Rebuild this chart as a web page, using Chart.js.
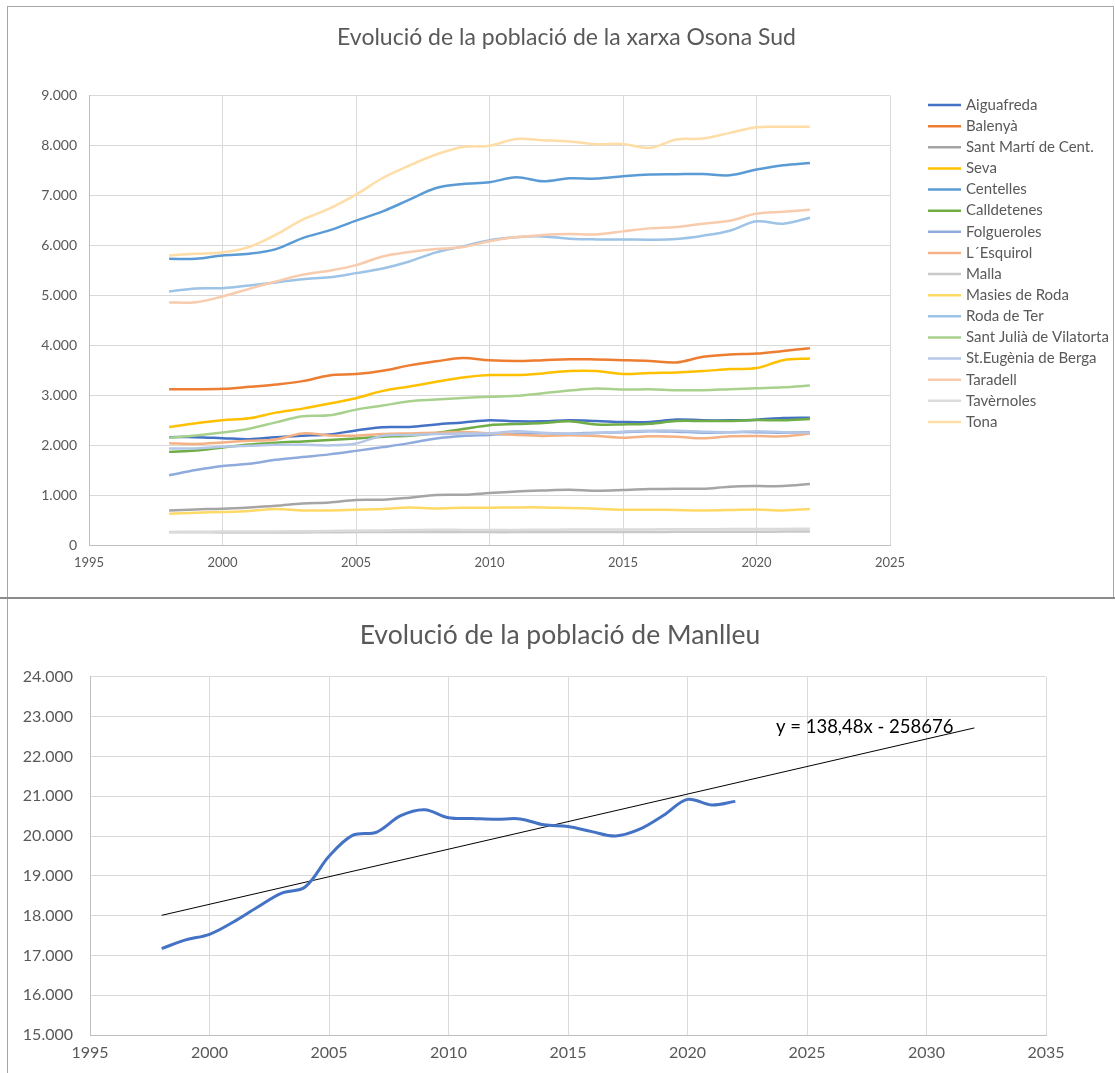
<!DOCTYPE html>
<html>
<head>
<meta charset="utf-8">
<script src="https://cdn.jsdelivr.net/npm/chart.js@4"></script>
<style>
  body { margin: 0; background: #fff; width: 1115px; height: 1073px; position: relative; overflow: hidden; }
  .box { position: absolute; }
  #topWrap { left: 0; top: 0; width: 1115px; height: 598px; }
  #bottomWrap { left: 0; top: 598px; width: 1115px; height: 475px; }
  .frame { position: absolute; pointer-events: none; }
</style>
</head>
<body>
<div id="topWrap" class="box"><canvas id="osonaChart" width="1115" height="598"></canvas></div>
<div id="bottomWrap" class="box"><canvas id="manlleuChart" width="1115" height="475"></canvas></div>
<div class="frame" style="left:7px;top:6px;width:1105px;height:591px;border:1px solid #a6a6a6;border-bottom:none;"></div>
<div class="frame" style="left:0;top:597px;width:1115px;height:0;border-top:2px solid #8c8c8c;"></div>
<div class="frame" style="left:7px;top:599px;width:0;height:474px;border-left:1px solid #a6a6a6;"></div>
<script>
// anys (1998-2022)
var years = [1998, 1999, 2000, 2001, 2002, 2003, 2004, 2005, 2006, 2007, 2008, 2009, 2010,
             2011, 2012, 2013, 2014, 2015, 2016, 2017, 2018, 2019, 2020, 2021, 2022];

var aiguafreda = [2160, 2160, 2140, 2120, 2160, 2190, 2215, 2295, 2360, 2365, 2415, 2455, 2500, 2476, 2476, 2500, 2485, 2463, 2463, 2515, 2497, 2497, 2510, 2545, 2550];
var balenya = [3120, 3120, 3128, 3168, 3215, 3282, 3396, 3423, 3490, 3597, 3678, 3745, 3700, 3685, 3702, 3722, 3715, 3702, 3685, 3656, 3768, 3815, 3834, 3887, 3940];
var santMarti = [693, 713, 727, 753, 787, 833, 853, 900, 907, 947, 1000, 1007, 1040, 1073, 1093, 1107, 1087, 1100, 1120, 1127, 1127, 1167, 1180, 1180, 1220];
var seva = [2362, 2436, 2497, 2537, 2651, 2731, 2832, 2940, 3087, 3174, 3268, 3356, 3404, 3404, 3437, 3483, 3483, 3424, 3444, 3457, 3483, 3523, 3543, 3702, 3735];
var centelles = [5732, 5732, 5800, 5833, 5926, 6147, 6300, 6495, 6682, 6916, 7150, 7230, 7264, 7364, 7284, 7344, 7338, 7384, 7418, 7425, 7431, 7405, 7518, 7605, 7652];
var calldetenes = [1865, 1893, 1953, 2015, 2050, 2075, 2101, 2134, 2168, 2188, 2242, 2322, 2400, 2422, 2442, 2476, 2415, 2415, 2429, 2483, 2483, 2483, 2503, 2497, 2523];
var folgueroles = [1395, 1500, 1580, 1625, 1705, 1760, 1815, 1885, 1960, 2040, 2135, 2185, 2205, 2230, 2240, 2230, 2250, 2260, 2280, 2270, 2250, 2260, 2260, 2250, 2260];
var esquirol = [2040, 2025, 2054, 2087, 2114, 2235, 2195, 2190, 2221, 2235, 2248, 2262, 2238, 2204, 2184, 2197, 2184, 2150, 2177, 2170, 2136, 2177, 2184, 2177, 2231];
var malla = [255, 255, 252, 250, 250, 252, 255, 258, 260, 262, 262, 260, 258, 258, 260, 262, 262, 262, 262, 263, 265, 266, 267, 268, 268];
var masies = [627, 647, 660, 680, 720, 693, 693, 707, 720, 753, 733, 747, 747, 753, 753, 740, 727, 707, 707, 700, 693, 700, 713, 693, 720];
var rodaTer = [5077, 5137, 5144, 5197, 5258, 5324, 5360, 5445, 5538, 5679, 5860, 5980, 6105, 6165, 6180, 6134, 6120, 6120, 6114, 6127, 6194, 6294, 6482, 6435, 6555];
var santJulia = [2148, 2195, 2255, 2329, 2456, 2577, 2597, 2711, 2792, 2879, 2913, 2946, 2970, 2987, 3040, 3093, 3133, 3113, 3120, 3100, 3100, 3120, 3139, 3159, 3192];
var stEugenia = [1933, 1933, 1966, 1987, 2007, 2007, 1995, 2034, 2188, 2201, 2221, 2235, 2235, 2280, 2250, 2230, 2240, 2270, 2290, 2290, 2270, 2260, 2280, 2260, 2250];
var taradell = [4856, 4863, 4977, 5130, 5278, 5411, 5492, 5605, 5779, 5866, 5926, 5967, 6085, 6167, 6207, 6227, 6220, 6281, 6341, 6368, 6435, 6495, 6636, 6676, 6716];
var tavernoles = [262, 266, 268, 270, 272, 275, 280, 286, 292, 298, 305, 302, 300, 302, 305, 308, 310, 310, 312, 314, 316, 318, 320, 322, 326];
var tona = [5800, 5833, 5860, 5967, 6214, 6515, 6736, 7017, 7350, 7600, 7820, 7970, 7995, 8130, 8107, 8080, 8027, 8030, 7953, 8120, 8140, 8254, 8368, 8375, 8375];

var municipis = ["Aiguafreda", "Balenyà", "Sant Martí de Cent.", "Seva", "Centelles", "Calldetenes",
                 "Folgueroles", "L´Esquirol", "Malla", "Masies de Roda", "Roda de Ter",
                 "Sant Julià de Vilatorta", "St.Eugènia de Berga", "Taradell", "Tavèrnoles", "Tona"];
var series = [aiguafreda, balenya, santMarti, seva, centelles, calldetenes, folgueroles, esquirol,
              malla, masies, rodaTer, santJulia, stEugenia, taradell, tavernoles, tona];
var colors = ["#4472C4", "#ED7D31", "#A5A5A5", "#FFC000", "#5B9BD5", "#70AD47",
              "#8FAADC", "#F4B183", "#C9C9C9", "#FFD966", "#9DC3E6", "#A9D18E",
              "#B4C7E7", "#F8CBAD", "#DBDBDB", "#FFDDA6"];

// Manlleu
var manlleu = [17170, 17390, 17530, 17840, 18210, 18560, 18720, 19490, 20020, 20100, 20510, 20660, 20460,
               20440, 20420, 20430, 20280, 20240, 20110, 20000, 20170, 20520, 20920, 20780, 20870];
var trendYears = [1998, 2032];
var trendValues = [18007, 22715];
var trendLabel = "y = 138,48x - 258676";

var yTicksTop = [0, 1000, 2000, 3000, 4000, 5000, 6000, 7000, 8000, 9000];
var xTicksTop = [1995, 2000, 2005, 2010, 2015, 2020, 2025];
var yTicksBottom = [15000, 16000, 17000, 18000, 19000, 20000, 21000, 22000, 23000, 24000];
var xTicksBottom = [1995, 2000, 2005, 2010, 2015, 2020, 2025, 2030, 2035];

Chart.defaults.font.family = "Lato, 'Open Sans', sans-serif";
Chart.defaults.color = "#595959";
Chart.defaults.animation = false;

function punts(xs, ys) {
    return xs.map(function (x, i) { return { x: x, y: ys[i] }; });
}

function milers(v) {
    return String(v).replace(/\B(?=(\d{3})+(?!\d))/g, ".");
}

var gridStyle = { color: "#d9d9d9", lineWidth: 1, drawTicks: false };
var borderStyle = { color: "#bfbfbf", width: 1 };

// empty axis on the right that only reserves room (legend / margin)
function spacer(w) {
    return {
        position: "right",
        min: 0, max: 1,
        afterFit: function (s) { s.width = w; },
        grid: { display: false, drawTicks: false },
        border: { display: false },
        ticks: { display: false }
    };
}

var sideLegend = {
    id: 'sideLegend',
    afterDraw: function (chart) {
        var ctx = chart.ctx;
        ctx.save();
        ctx.font = "15px Lato";
        ctx.textBaseline = "middle";
        chart.data.datasets.forEach(function (ds, i) {
            var y = 105 + i * 21.13;
            ctx.strokeStyle = ds.borderColor;
            ctx.lineWidth = 2.5;
            ctx.beginPath();
            ctx.moveTo(928, y);
            ctx.lineTo(961, y);
            ctx.stroke();
            ctx.fillStyle = "#595959";
            ctx.fillText(ds.label, 966, y);
        });
        ctx.restore();
    }
};

var topDatasets = municipis.map(function (nom, i) {
    return {
        label: nom,
        data: punts(years, series[i]),
        borderColor: colors[i],
        backgroundColor: colors[i],
        borderWidth: 2.5,
        pointRadius: 0,
        tension: 0.35,
        order: municipis.length - i
    };
});

new Chart(document.getElementById("osonaChart"), {
    type: "line",
    data: { datasets: topDatasets },
    options: {
        responsive: false,
        layout: { padding: { left: 18, right: 0, top: 0, bottom: 0 } },
        plugins: {
            legend: { display: false },
            tooltip: { enabled: false },
            title: {
                display: true,
                text: "Evolució de la població de la xarxa Osona Sud",
                font: { size: 23, weight: "normal" },
                color: "#595959",
                padding: { top: 24, bottom: 44 }
            }
        },
        scales: {
            x: {
                type: "linear",
                min: 1995, max: 2025,
                afterBuildTicks: function (s) { s.ticks = xTicksTop.map(function (v) { return { value: v }; }); },
                afterFit: function (s) { s.height = 53; },
                grid: gridStyle,
                border: borderStyle,
                ticks: { font: { size: 13 }, padding: 10, callback: function (v) { return String(v); } }
            },
            y: {
                min: 0, max: 9000,
                afterBuildTicks: function (s) { s.ticks = yTicksTop.map(function (v) { return { value: v }; }); },
                afterFit: function (s) { s.width = 71; },
                grid: gridStyle,
                border: borderStyle,
                ticks: { font: { size: 14 }, padding: 12, callback: function (v) { return milers(v); } }
            },
            legendRoom: spacer(225)
        }
    },
    plugins: [sideLegend]
});

var trendText = {
    id: 'trendText',
    afterDatasetsDraw: function (chart) {
        var ctx = chart.ctx;
        var x = chart.scales.x.getPixelForValue(2023.7);
        var y = chart.scales.y.getPixelForValue(22744);
        ctx.save();
        ctx.font = "18.5px Lato";
        ctx.fillStyle = "#000000";
        ctx.textBaseline = "middle";
        ctx.fillText(trendLabel, x, y);
        ctx.restore();
    }
};

new Chart(document.getElementById("manlleuChart"), {
    type: "line",
    data: {
        datasets: [
            {
                label: "Manlleu",
                data: punts(years, manlleu),
                borderColor: "#4472C4",
                borderWidth: 3,
                pointRadius: 0,
                tension: 0.35
            },
            {
                label: "Tendència",
                data: punts(trendYears, trendValues),
                borderColor: "#000000",
                borderWidth: 1,
                pointRadius: 0,
                tension: 0
            }
        ]
    },
    options: {
        responsive: false,
        layout: { padding: { left: 5, right: 0, top: 0, bottom: 0 } },
        plugins: {
            legend: { display: false },
            tooltip: { enabled: false },
            title: {
                display: true,
                text: "Evolució de la població de Manlleu",
                font: { size: 26.5, weight: "normal" },
                color: "#595959",
                padding: { top: 22, bottom: 25 }
            }
        },
        scales: {
            x: {
                type: "linear",
                min: 1995, max: 2035,
                afterBuildTicks: function (s) { s.ticks = xTicksBottom.map(function (v) { return { value: v }; }); },
                afterFit: function (s) { s.height = 38; },
                grid: gridStyle,
                border: borderStyle,
                ticks: { font: { size: 16 }, padding: 8, callback: function (v) { return String(v); } }
            },
            y: {
                min: 15000, max: 24000,
                afterBuildTicks: function (s) { s.ticks = yTicksBottom.map(function (v) { return { value: v }; }); },
                afterFit: function (s) { s.width = 85; },
                grid: gridStyle,
                border: borderStyle,
                ticks: { font: { size: 16 }, padding: 17, callback: function (v) { return milers(v); } }
            },
            margin: spacer(69)
        }
    },
    plugins: [trendText]
});
</script>
</body>
</html>
